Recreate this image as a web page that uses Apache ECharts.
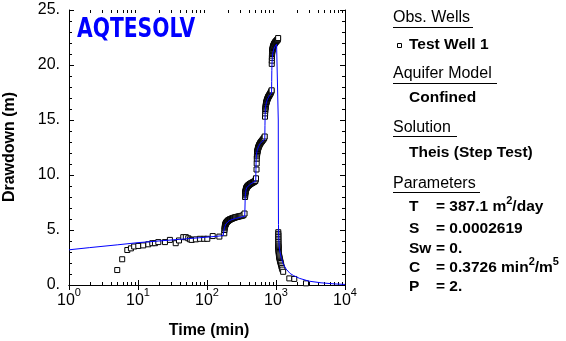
<!DOCTYPE html>
<html><head><meta charset="utf-8">
<script src="https://cdn.jsdelivr.net/npm/echarts@6/dist/echarts.min.js"></script>
<style>html,body{margin:0;padding:0;background:#fff}#c{width:566px;height:341px}</style>
</head><body><div id="c"></div>
<script>
// ---- data ----
const obsTime = [5.0, 5.9, 7.0, 7.9, 8.8, 10.1, 11.9, 14.1, 16.1, 17.6, 19.7, 24.6, 29, 35.2, 39.3, 45.3, 49.3, 53.5, 56.9, 60, 69, 79, 91, 101, 121, 151,
  178, 179, 180, 181, 182, 183, 184, 185, 186, 187, 188, 189, 190, 191, 192, 194, 196, 198, 200, 202, 204, 206, 208, 210, 213, 216, 219, 222, 226, 230, 234, 238, 243, 248, 254, 260, 267, 275, 283, 292, 302, 313, 325, 338, 350,
  356, 357, 358, 359, 360, 361, 362, 364, 366, 368, 370, 372, 374, 376, 378, 381, 384, 387, 390, 394, 398, 402, 406, 411, 416, 421, 427, 433, 440, 447, 455, 463, 472, 481, 491, 501, 510,
  513, 522, 525, 527, 529, 531, 533, 535, 537, 539, 541, 544, 547, 550, 553, 556, 560, 564, 568, 572, 577, 582, 587, 593, 599, 605, 612, 619, 627, 635, 644, 653, 663, 674, 686,
  693, 696, 699, 702, 705, 708, 711, 714, 717, 720, 724, 728, 732, 736, 741, 746, 751, 756, 762, 768, 774, 781, 788, 795, 803, 811, 820, 829, 838, 848, 858, 865,
  868, 870, 872, 874, 876, 878, 881, 884, 887, 890, 894, 898, 902, 906, 911, 916, 921, 927, 933, 939, 946, 953, 960, 968, 976, 985, 994, 1003, 1013, 1023, 1034, 1045, 1056, 1066, 1075,
  1079, 1079.5, 1080, 1080.5, 1081, 1081.5, 1082, 1083, 1084, 1085, 1086, 1088, 1090, 1092, 1095, 1098, 1102, 1107, 1113, 1120, 1128, 1137, 1147, 1158, 1170, 1185, 1200, 1218, 1240, 1270, 1560, 1840, 2720];
const obsDrawdown = [1.36, 2.34, 3.18, 3.33, 3.5, 3.55, 3.6, 3.7, 3.8, 3.8, 3.9, 3.9, 4.1, 3.8, 4.05, 4.35, 4.35, 4.25, 4.15, 4.1, 4.15, 4.2, 4.2, 4.2, 4.45, 4.4,
  4.7, 5.0, 5.15, 5.25, 5.32, 5.38, 5.44, 5.5, 5.55, 5.58, 5.6, 5.63, 5.65, 5.68, 5.7, 5.73, 5.76, 5.79, 5.82, 5.85, 5.87, 5.89, 5.9, 5.92, 5.95, 5.96, 5.98, 6.0, 6.02, 6.04, 6.06, 6.08, 6.1, 6.12, 6.14, 6.16, 6.18, 6.2, 6.22, 6.24, 6.26, 6.28, 6.3, 6.35, 6.5,
  8.0, 8.15, 8.25, 8.35, 8.42, 8.48, 8.53, 8.6, 8.66, 8.71, 8.75, 8.79, 8.83, 8.86, 8.89, 8.92, 8.95, 8.98, 9.0, 9.03, 9.06, 9.08, 9.1, 9.13, 9.15, 9.18, 9.2, 9.23, 9.25, 9.28, 9.3, 9.33, 9.36, 9.39, 9.42, 9.46, 9.6,
  9.7, 10.5, 11.05, 11.5, 11.7, 11.85, 11.95, 12.05, 12.12, 12.18, 12.24, 12.3, 12.36, 12.42, 12.47, 12.52, 12.57, 12.62, 12.67, 12.71, 12.76, 12.8, 12.85, 12.9, 12.94, 12.98, 13.02, 13.06, 13.1, 13.15, 13.2, 13.25, 13.3, 13.37, 13.5,
  15.3, 15.6, 15.85, 16.0, 16.12, 16.22, 16.3, 16.38, 16.45, 16.52, 16.58, 16.64, 16.7, 16.75, 16.8, 16.85, 16.9, 16.95, 17.0, 17.05, 17.1, 17.14, 17.18, 17.22, 17.27, 17.32, 17.37, 17.42, 17.48, 17.55, 17.62, 17.7,
  20.1, 20.4, 20.65, 20.85, 21.0, 21.1, 21.2, 21.28, 21.35, 21.42, 21.48, 21.54, 21.6, 21.64, 21.68, 21.72, 21.76, 21.8, 21.84, 21.88, 21.92, 21.96, 22.0, 22.03, 22.06, 22.09, 22.12, 22.15, 22.18, 22.21, 22.24, 22.27, 22.3, 22.35, 22.45,
  4.8, 4.65, 4.5, 4.35, 4.2, 4.05, 3.9, 3.75, 3.6, 3.5, 3.4, 3.3, 3.2, 3.1, 3.0, 2.9, 2.8, 2.7, 2.6, 2.5, 2.4, 2.3, 2.2, 2.1, 2.0, 1.85, 1.7, 1.55, 1.4, 1.2, 0.6, 0.55, 0.15];
const modelTime = [1, 2, 5, 10, 20, 50, 100, 150, 172, 175, 178, 182, 188, 196, 210, 230, 260, 300, 352, 355, 358, 362, 368, 378, 395, 420, 460, 508, 512, 515, 520, 528, 540, 560, 590, 630, 688, 692, 696, 702, 712, 730, 760, 800, 862, 866, 870, 876, 886, 900, 930, 970, 1020, 1078, 1079, 1082, 1086, 1095, 1110, 1140, 1200, 1275, 1400, 1600, 1800, 2200, 3000, 4500, 7000, 10000];
const modelDrawdown = [3.2, 3.4, 3.65, 3.85, 4.0, 4.2, 4.35, 4.45, 4.5, 4.9, 5.1, 5.35, 5.55, 5.7, 5.85, 5.95, 6.05, 6.15, 6.25, 7.0, 8.0, 8.4, 8.65, 8.85, 9.0, 9.15, 9.3, 9.45, 10.5, 11.3, 11.8, 12.1, 12.35, 12.6, 12.85, 13.05, 13.25, 14.5, 15.5, 16.0, 16.35, 16.65, 16.95, 17.2, 17.45, 18.5, 19.5, 20.2, 20.7, 21.1, 21.45, 21.7, 21.9, 22.05, 15, 8, 5.5, 4.3, 3.6, 3.0, 2.4, 1.9, 1.45, 1.05, 0.85, 0.6, 0.35, 0.2, 0.1, 0.05];
const xMinorTicks = [2,3,4,5,6,7,8,9,20,30,40,50,60,70,80,90,200,300,400,500,600,700,800,900,2000,3000,4000,5000,6000,7000,8000,9000];
const yTickLabels = ['0.', '5.', '10.', '15.', '20.', '25.'];
const infoParams = [['T', '= 387.1 m', '2', '/day', ''], ['S', '= 0.0002619', '', '', ''], ['Sw', '= 0.', '', '', ''], ['C', '= 0.3726 min', '2', '/m', '5'], ['P', '= 2.', '', '', '']];

// ---- chart ----
const FONT = '"Liberation Sans", Arial, sans-serif';
const chart = echarts.init(document.getElementById('c'), null, {renderer: 'canvas'});
const scatterData = obsTime.map((t, i) => [t, obsDrawdown[i]]);
const lineData = modelTime.map((t, i) => [t, modelDrawdown[i]]);

const HEAD_FONT = '16px ' + FONT;
const ITEM_FONT = 'bold 15.5px ' + FONT;
const g = [];
function txt(x, y, s, font) {
  g.push({type: 'text', x: x, y: y, silent: true,
    style: {text: s, fill: '#000', font: font, textVerticalAlign: 'middle', textAlign: 'left'}});
}
function uline(x1, x2, y) {
  g.push({type: 'line', silent: true, shape: {x1: x1, y1: y + 0.5, x2: x2, y2: y + 0.5}, style: {stroke: '#000', lineWidth: 1}});
}
const richStyles = {n: {font: ITEM_FONT, fill: '#000', lineHeight: 20, verticalAlign: 'bottom'},
                    s: {font: 'bold 11px ' + FONT, fill: '#000', lineHeight: 12, verticalAlign: 'top'}};
function richTxt(x, y, s) {
  g.push({type: 'text', x: x, y: y, silent: true, style: {text: s, textVerticalAlign: 'middle', rich: richStyles}});
}
// logo
g.push({type: 'text', x: 77, y: 17, scaleX: 0.78, silent: true,
  style: {text: 'AQTESOLV', fill: '#0000ff', font: '900 26px "DejaVu Sans", sans-serif', textVerticalAlign: 'top'}});
// axis titles
g.push({type: 'text', x: 10, y: 147, rotation: Math.PI / 2, silent: true,
  style: {text: 'Drawdown (m)', fill: '#000', font: 'bold 16px ' + FONT, textAlign: 'center', textVerticalAlign: 'middle'}});
g.push({type: 'text', x: 209, y: 331, silent: true,
  style: {text: 'Time (min)', fill: '#000', font: 'bold 16px ' + FONT, textAlign: 'center', textVerticalAlign: 'middle'}});
// info panel
txt(393, 18, 'Obs. Wells', HEAD_FONT); uline(393, 473, 27);
g.push({type: 'rect', silent: true, shape: {x: 397.5, y: 43.5, width: 4, height: 4}, style: {fill: '#fff', stroke: '#000', lineWidth: 1}});
txt(409, 45, 'Test Well 1', ITEM_FONT);
txt(393, 74, 'Aquifer Model', HEAD_FONT); uline(393, 497, 83);
txt(409, 98, 'Confined', ITEM_FONT);
txt(393, 128, 'Solution', HEAD_FONT); uline(393, 457, 136);
txt(409, 153, 'Theis (Step Test)', ITEM_FONT);
txt(393, 184, 'Parameters', HEAD_FONT); uline(393, 480, 192);
const rowY = [205, 227, 247, 266, 285];
infoParams.forEach((p, i) => {
  richTxt(409, rowY[i], '{n|' + p[0] + '}');
  let rich = '{n|' + p[1] + '}';
  if (p[2]) rich += '{s|' + p[2] + '}';
  if (p[3]) rich += '{n|' + p[3] + '}';
  if (p[4]) rich += '{s|' + p[4] + '}';
  richTxt(436, rowY[i], rich);
});

const option = {
  animation: false,
  backgroundColor: '#fff',
  grid: {left: 69, right: 221, top: 10, bottom: 56},
  xAxis: [
    {type: 'log', logBase: 10, min: 1, max: 10000, splitNumber: 4, position: 'bottom',
     axisLine: {lineStyle: {color: '#000', width: 1}},
     axisTick: {inside: true, length: 5, lineStyle: {color: '#000'}},
     splitLine: {show: false},
     axisLabel: {margin: 2, color: '#000',
       formatter: v => '{b|10}{s|' + Math.round(Math.log10(v)) + '}',
       rich: {b: {fontFamily: FONT, fontSize: 16, lineHeight: 22, verticalAlign: 'bottom', color: '#000'},
              s: {fontFamily: FONT, fontSize: 11, lineHeight: 10, verticalAlign: 'top', color: '#000'}}}},
    {type: 'log', logBase: 10, min: 1, max: 10000, splitNumber: 4, position: 'top',
     axisLine: {lineStyle: {color: '#000', width: 1}},
     axisTick: {inside: true, length: 5, lineStyle: {color: '#000'}},
     splitLine: {show: false}, axisLabel: {show: false}}
  ],
  yAxis: [
    {type: 'value', min: 0, max: 25, interval: 5, position: 'left',
     axisLine: {show: true, lineStyle: {color: '#000', width: 1}},
     axisTick: {show: true, inside: true, length: 5, lineStyle: {color: '#000'}},
     minorTick: {show: true, splitNumber: 5, length: 3, lineStyle: {color: '#000'}},
     splitLine: {show: false},
     axisLabel: {margin: 9, color: '#000', fontFamily: FONT, fontSize: 16,
       formatter: v => yTickLabels[Math.round(v / 5)]}},
    {type: 'value', min: 0, max: 25, interval: 5, position: 'right',
     axisLine: {show: true, lineStyle: {color: '#000', width: 1}},
     axisTick: {show: true, inside: true, length: 5, lineStyle: {color: '#000'}},
     minorTick: {show: true, splitNumber: 5, length: 3, lineStyle: {color: '#000'}},
     splitLine: {show: false}, axisLabel: {show: false}}
  ],
  series: [
    {type: 'custom', xAxisIndex: 0, yAxisIndex: 0, silent: true, clip: false, z: 1,
     data: xMinorTicks.map(v => [v, 0]),
     renderItem: function (params, api) {
       const x = Math.round(api.coord([api.value(0), 0])[0]) + 0.5;
       const yb = Math.round(api.coord([1, 0])[1]);
       const yt = Math.round(api.coord([1, 25])[1]);
       return {type: 'group', children: [
         {type: 'line', shape: {x1: x, y1: yb, x2: x, y2: yb - 3}, style: {stroke: '#000', lineWidth: 1}},
         {type: 'line', shape: {x1: x, y1: yt, x2: x, y2: yt + 3}, style: {stroke: '#000', lineWidth: 1}}
       ]};
     }},
    {type: 'scatter', name: 'Test Well 1', data: scatterData, symbol: 'rect', symbolSize: 5, z: 2,
     itemStyle: {color: '#fff', borderColor: '#000', borderWidth: 1, opacity: 1}},
    {type: 'line', data: lineData, showSymbol: false, symbol: 'none', z: 3,
     lineStyle: {color: '#0000ff', width: 1}}
  ],
  graphic: g
};
chart.setOption(option);
</script></body></html>
